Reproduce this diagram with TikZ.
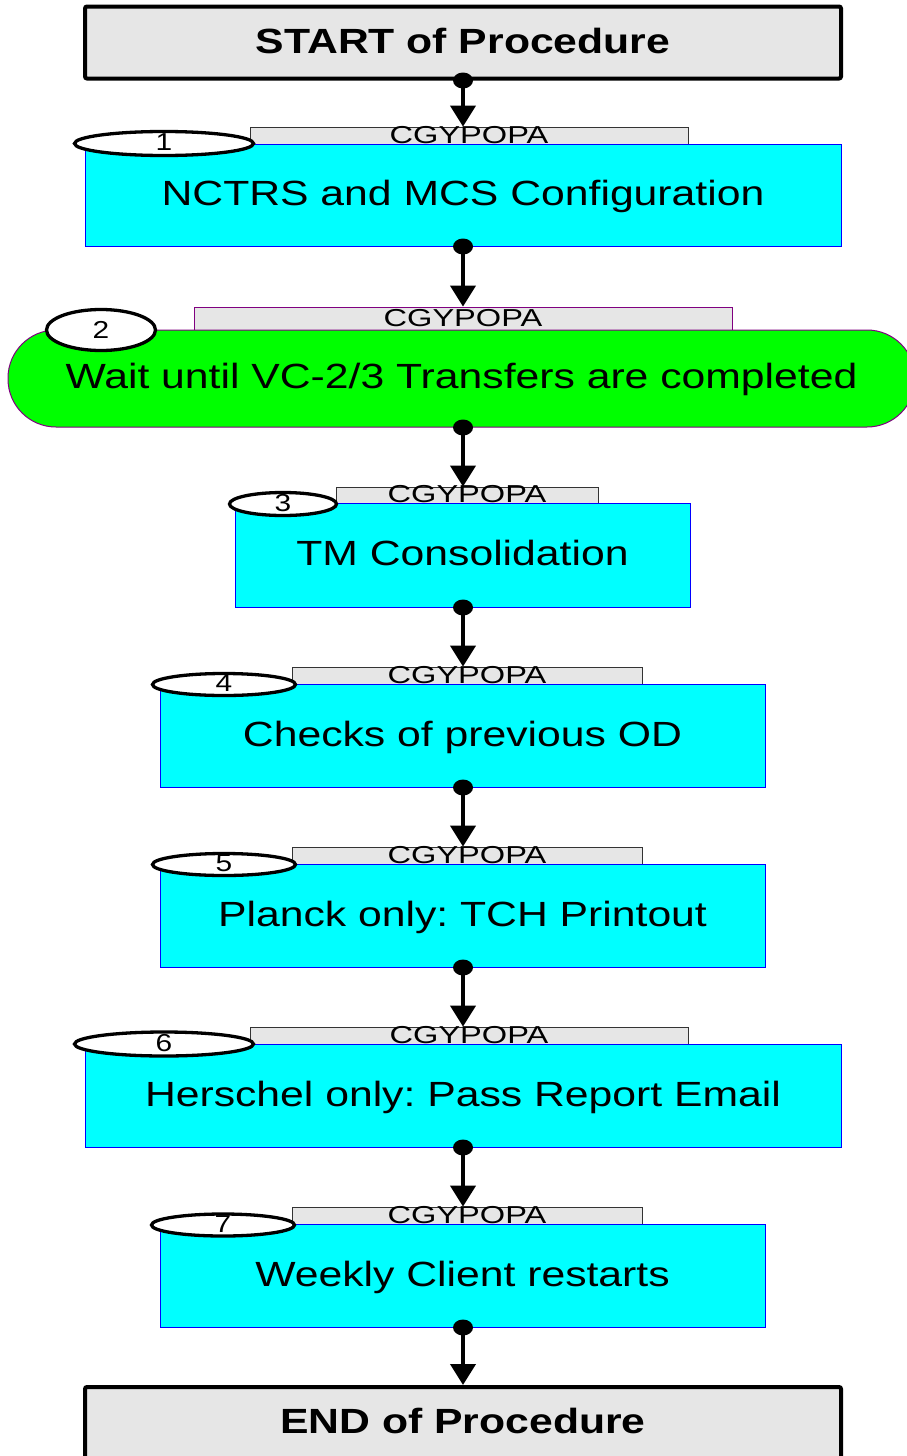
\documentclass[tikz,border=0pt]{standalone}
\usepackage{fontspec}
\setmainfont{Liberation Sans}
\newfontfamily\wfont{Liberation Sans}[FakeStretch=1.22]
\newfontfamily\tfont{Liberation Sans}[FakeStretch=1.33]
\usetikzlibrary{arrows.meta,shapes.geometric}
\definecolor{gray0}{HTML}{E6E6E6}
\definecolor{cyan0}{HTML}{00FFFF}
\definecolor{green0}{HTML}{00FF00}
\definecolor{blue0}{HTML}{0000FF}
\definecolor{purple0}{HTML}{800080}
\definecolor{tabline}{HTML}{333333}
\frenchspacing
\begin{document}
\begin{tikzpicture}[x=1pt,y=-1pt,
 stepbox/.style={draw=blue0, line width=1pt, fill=cyan0, inner sep=0pt, text height=21pt, text depth=0pt, font=\wfont\fontsize{35}{40}\selectfont},
 endbox/.style={draw=black, line width=4pt, fill=gray0, rounded corners=2pt, inner sep=0pt, minimum width=756pt, minimum height=72pt, text height=21pt, text depth=0pt, font=\wfont\bfseries\fontsize{35}{40}\selectfont},
 tabbox/.style={draw=tabline, line width=0.8pt, fill=gray0, inner sep=0pt, text height=15pt, text depth=0pt, font=\tfont\fontsize{24.5}{28}\selectfont},
 numell/.style={ellipse, draw=black, line width=3.3pt, fill=white, inner sep=0pt, text height=14pt, text depth=0pt, font=\wfont\fontsize{24.5}{28}\selectfont},
 conn/.style={line width=4pt, -{Triangle[width=25pt,length=21pt]}},
 dotfill/.style={fill=black}
]
\useasboundingbox (0,0) rectangle (907,1456);
\clip (0,0) rectangle (907,1456);

% START
\node[endbox] (s) at (463,42.5) {START of Procedure};

% step 1
\node[tabbox, minimum width=438pt, minimum height=17pt] (t1) at (469,135.5) {CGYPOPA};
\node[stepbox, minimum width=756pt, minimum height=102pt] (b1) at (463,195) {NCTRS and MCS Configuration};
\node[numell, minimum width=179pt, minimum height=24pt] (e1) at (164,143.5) {1};

% step 2
\node[tabbox, draw=purple0, minimum width=538pt, minimum height=23pt] (t2) at (463,318.5) {CGYPOPA};
\node[stepbox, draw=purple0, fill=green0, rounded corners=48pt, text height=19pt, minimum width=907pt, minimum height=97pt] (b2) at (461.5,378.5) {Wait until VC-2/3 Transfers are completed};
\node[numell, minimum width=109pt, minimum height=41pt] (e2) at (101,330) {\raisebox{-1pt}{2}};

% step 3
\node[tabbox, minimum width=262pt, minimum height=16pt] (t3) at (467,495) {CGYPOPA};
\node[stepbox, minimum width=455pt, minimum height=104pt] (b3) at (462.5,555) {TM Consolidation};
\node[numell, minimum width=107pt, minimum height=23pt] (e3) at (283,504) {3};

% step 4
\node[tabbox, minimum width=350pt, minimum height=17pt] (t4) at (467,675.5) {CGYPOPA};
\node[stepbox, minimum width=605pt, minimum height=103pt] (b4) at (462.5,735.5) {Checks of previous OD};
\node[numell, minimum width=143pt, minimum height=22pt] (e4) at (224,684.5) {4};

% step 5
\node[tabbox, minimum width=350pt, minimum height=17pt] (t5) at (467,855.5) {CGYPOPA};
\node[stepbox, minimum width=605pt, minimum height=103pt] (b5) at (462.5,915.5) {Planck only: TCH Printout};
\node[numell, minimum width=143pt, minimum height=22pt] (e5) at (224,864.5) {5};

% step 6
\node[tabbox, minimum width=438pt, minimum height=17pt] (t6) at (469,1035.5) {CGYPOPA};
\node[stepbox, minimum width=756pt, minimum height=103pt] (b6) at (463,1095.5) {Herschel only: Pass Report Email};
\node[numell, minimum width=179pt, minimum height=24pt] (e6) at (164,1044) {6};

% step 7
\node[tabbox, minimum width=350pt, minimum height=17pt] (t7) at (467,1215.5) {CGYPOPA};
\node[stepbox, minimum width=605pt, minimum height=103pt] (b7) at (462.5,1275.5) {Weekly Client restarts};
\node[numell, minimum width=143pt, minimum height=22pt] (e7) at (223,1225) {7};

% END
\node[endbox] (en) at (463,1423) {END of Procedure};

% connectors
\foreach \a/\b in {s/t1, b1/t2, b2/t3, b3/t4, b4/t5, b5/t6, b6/t7, b7/en}{
  \draw[conn] (\a.south -| b1.south) -- (b1.south |- \b.north);
  \fill[dotfill] (\a.south -| b1.south) ellipse [x radius=10pt, y radius=8pt];
}
\end{tikzpicture}
\end{document}
